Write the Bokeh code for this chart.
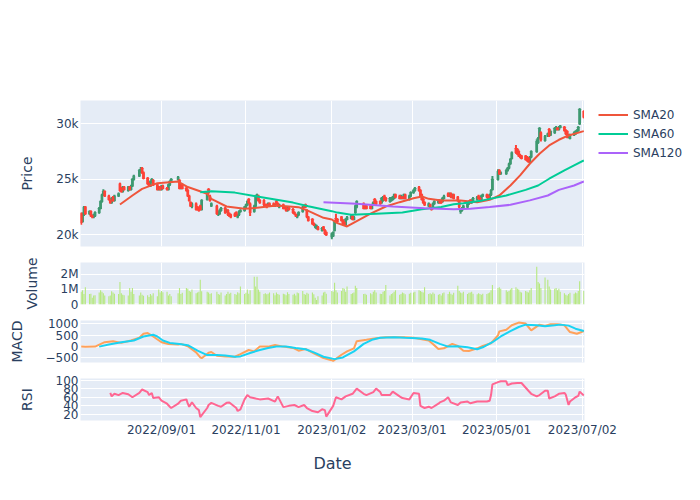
import pandas as pd
from bokeh.plotting import figure
from bokeh.layouts import column, row
from bokeh.models import (Range1d, FixedTicker, DatetimeTickFormatter, Legend,
                          LegendItem, Span, ColumnDataSource)
from bokeh.embed import file_html
from bokeh.resources import INLINE

# ---------------- data ----------------
krx_holidays = ["2022-08-15", "2022-09-09", "2022-09-12", "2022-10-03", "2022-10-10",
                "2022-12-30", "2023-01-23", "2023-01-24", "2023-03-01", "2023-05-01",
                "2023-05-05", "2023-05-29", "2023-06-06"]

open_ = [
    21900, 21200, 21800, 22500,
    21900, 22100, 21700, 21600, 21700,
    22000, 22400, 23000, 23600, 23900,
    23500, 23100, 22900, 23400, 23100,
    23500, 24600, 24200, 23900, 24300,
    24000, 24300, 24100, 24400, 25000,
    25300, 25700, 26000, 25600,
    25100, 24600, 24400, 24800, 24900,
    24500, 24100, 24300, 24100, 24400,
    24200, 24100, 24500, 24800,
    25000, 24900, 24200, 24500,
    24200, 24000, 23500, 22900, 22500,
    22800, 22500, 22400, 22600, 22300,
    23200, 24100, 23500, 22600,
    22600, 21900, 21900, 22200,
    22400, 22100, 22200, 21900, 21800,
    21900, 22000, 21600, 21800, 22100,
    22200, 22500, 22700, 23200, 22800,
    22100, 22600, 23300, 23500, 23100,
    23100, 22700, 22700, 22600, 22800,
    22800, 22600, 23000, 22800, 22500,
    22700, 22500, 22400, 22200, 22400,
    22300, 22000, 21800, 21600, 21800,
    22100, 22600, 22700, 22200, 21600,
    21400, 21000, 20700, 20600, 20700,
    20400, 20700, 20400, 20200,
    19800, 19900, 20400, 21500, 21400,
    21600, 21300, 21100, 20900, 21400,
    21500, 21700, 21400, 22000, 22500,
    22800, 22400, 22600,
    22600, 22400, 22700, 23200, 23000,
    23000, 22900, 23100, 23500, 23300,
    23000, 23100, 23200, 23300, 23600,
    23500, 23300, 23400, 23300, 23600,
    23200, 23500, 23800, 24000,
    24300, 24000, 23600, 23200, 22900,
    22600, 22700, 22400, 22400, 22800,
    22900, 23100, 23000, 23000, 23300,
    23700, 23500, 23700, 23400, 23600,
    23400, 23000, 22100, 22200, 22400,
    22500, 22800, 23100, 22900, 23100,
    23200, 23500, 23300, 23200, 23500,
    23600, 23500, 23300, 23600, 24100,
    25000, 25800, 25500,
    25500, 25800, 26000, 26400, 26900,
    27800, 27700, 27500, 27200, 27100,
    27100, 27000, 26900, 26600, 27000,
    27500, 28300, 28800, 29200,
    28500, 28900, 29500, 29000,
    29200, 29500, 29600, 29500, 29700,
    29700, 29400, 29300, 28800, 28700,
    29000, 29100, 29300, 29400, 30000,
    31100]

close = [
    21100, 21900, 22500, 21900,
    22100, 21700, 21600, 21800, 22000,
    22400, 23000, 23600, 23900, 23500,
    23200, 22900, 23300, 23100, 23500,
    23700, 24000, 23900, 24300, 24100,
    24300, 24100, 24400, 25000, 25300,
    25800, 25900, 25600, 25100,
    24600, 24400, 24800, 25000, 24500,
    24100, 24300, 24100, 24400, 24200,
    24100, 24500, 24800, 25000,
    25200, 24200, 24500, 24200,
    24000, 23500, 23100, 22600, 22800,
    22300, 22300, 22200, 22300, 23100,
    23800, 23800, 23100, 22800,
    21900, 22000, 22200, 22400,
    22000, 22200, 21800, 21700, 21600,
    21700, 21800, 21800, 22100, 22200,
    22500, 22700, 23000, 22900, 22000,
    22600, 23400, 23600, 23100, 22900,
    22700, 22600, 22500, 22800, 22600,
    22600, 22700, 22800, 22600, 22700,
    22400, 22400, 22200, 22400, 22300,
    22000, 21900, 21700, 21800, 22000,
    22500, 22500, 22500, 21600, 21300,
    21000, 20900, 20900, 20800, 20500,
    20600, 20500, 20100, 20000,
    20100, 20200, 21200, 21300, 21200,
    21300, 21000, 20900, 21400, 21600,
    21700, 21400, 21600, 22600, 23000,
    22400, 22600, 22400,
    22400, 22700, 22900, 22900, 22800,
    22800, 23300, 23400, 23200, 23100,
    23300, 23300, 23400, 23600, 23400,
    23300, 23500, 23300, 23600, 23300,
    23500, 23800, 24000, 24200,
    24000, 23500, 23200, 22900, 22700,
    22800, 22500, 22300, 22800, 23000,
    23100, 22900, 22900, 23300, 23500,
    23500, 23700, 23400, 23600, 23300,
    23100, 22500, 22300, 22400, 22600,
    22800, 23000, 22900, 23100, 23300,
    23400, 23300, 23200, 23500, 23600,
    23400, 23300, 23600, 24000, 25000,
    25700, 25500, 25600,
    25800, 26000, 26400, 26800, 27400,
    27400, 27300, 27100, 27000, 26900,
    26800, 26700, 26600, 27000, 27500,
    28400, 28700, 29600, 28600,
    28900, 29100, 29000, 29300,
    29600, 29700, 29500, 29700, 29800,
    29400, 29100, 28800, 29000, 29000,
    29200, 29300, 29400, 29700, 31300,
    30600]

high = [
    22000, 22000, 22600, 22600,
    22200, 22200, 21800, 21900, 22100,
    22500, 23100, 23700, 24100, 24000,
    23600, 23200, 23400, 23500, 23600,
    23800, 24700, 24300, 24400, 24400,
    24400, 24400, 24500, 25100, 25400,
    25900, 26100, 26100, 25700,
    25200, 24700, 24900, 25100, 25000,
    24600, 24400, 24400, 24500, 24500,
    24300, 24600, 24900, 25100,
    25300, 25000, 24600, 24600,
    24300, 24100, 23600, 23000, 22900,
    22900, 22600, 22500, 22700, 23200,
    23900, 24200, 23600, 22900,
    22700, 22100, 22300, 22500,
    22500, 22300, 22300, 22000, 21900,
    22000, 22100, 21900, 22200, 22300,
    22600, 22800, 23100, 23300, 22900,
    22700, 23600, 23700, 23600, 23200,
    23200, 22800, 22800, 22900, 22900,
    22900, 22800, 23200, 22900, 22800,
    22800, 22600, 22500, 22500, 22500,
    22400, 22100, 21900, 21900, 22100,
    22600, 22700, 22800, 22300, 21700,
    21500, 21100, 21000, 20900, 20800,
    20700, 20800, 20500, 20300,
    20200, 20300, 21300, 21900, 21500,
    21700, 21400, 21200, 21500, 21700,
    21800, 21800, 21700, 22700, 23100,
    22900, 22700, 22700,
    22700, 22800, 23000, 23300, 23100,
    23100, 23400, 23500, 23600, 23400,
    23400, 23400, 23500, 23700, 23700,
    23600, 23600, 23500, 23700, 23700,
    23600, 23900, 24100, 24300,
    24400, 24100, 23700, 23300, 23000,
    22900, 22800, 22500, 22900, 23100,
    23200, 23200, 23100, 23400, 23600,
    23800, 23800, 23800, 23700, 23700,
    23500, 23100, 22400, 22500, 22700,
    22900, 23100, 23200, 23200, 23400,
    23500, 23600, 23400, 23600, 23700,
    23700, 23600, 23700, 24100, 25300,
    25900, 25900, 25700,
    25900, 26100, 26500, 26900, 27500,
    28100, 27800, 27600, 27300, 27200,
    27200, 27100, 27000, 27100, 27600,
    28600, 28800, 29700, 29300,
    29000, 29200, 29600, 29400,
    29700, 29800, 29700, 29800, 29900,
    29800, 29500, 29400, 29100, 29100,
    29300, 29400, 29500, 29800, 31400,
    31200]

low = [
    20900, 21100, 21700, 21800,
    21800, 21600, 21500, 21500, 21600,
    21900, 22300, 22900, 23500, 23400,
    23100, 22800, 22800, 23000, 23000,
    23400, 23900, 23800, 23800, 24000,
    23900, 24000, 24000, 24300, 24900,
    25200, 25600, 25500, 25000,
    24500, 24300, 24300, 24700, 24400,
    24000, 24000, 24000, 24000, 24100,
    24000, 24000, 24400, 24700,
    24900, 24100, 24100, 24100,
    23900, 23400, 23000, 22500, 22400,
    22200, 22200, 22100, 22200, 22200,
    23100, 23700, 23000, 22500,
    21800, 21700, 21800, 22100,
    21900, 22000, 21700, 21600, 21500,
    21600, 21700, 21500, 21700, 22000,
    22100, 22400, 22600, 22800, 21700,
    22000, 22500, 23200, 23000, 22800,
    22600, 22500, 22400, 22500, 22500,
    22500, 22500, 22700, 22500, 22400,
    22300, 22300, 22100, 22100, 22200,
    21900, 21800, 21600, 21500, 21700,
    22000, 22400, 22400, 21500, 21200,
    20900, 20800, 20600, 20500, 20400,
    20300, 20400, 20000, 19900,
    19600, 19800, 20300, 21200, 21100,
    21200, 20900, 20800, 20800, 21300,
    21400, 21300, 21300, 21900, 22400,
    22300, 22300, 22300,
    22300, 22300, 22600, 22800, 22700,
    22700, 22800, 23000, 23100, 23000,
    22900, 23000, 23100, 23200, 23300,
    23200, 23200, 23200, 23200, 23200,
    23100, 23400, 23700, 23900,
    23900, 23400, 23100, 22800, 22600,
    22500, 22400, 22200, 22300, 22700,
    22800, 22800, 22800, 22900, 23200,
    23400, 23400, 23300, 23300, 23200,
    23000, 22400, 21900, 22100, 22300,
    22400, 22700, 22800, 22800, 23000,
    23100, 23200, 23100, 23100, 23400,
    23300, 23200, 23200, 23500, 24000,
    24900, 25400, 25400,
    25400, 25700, 25900, 26300, 26800,
    27300, 27200, 27000, 26900, 26800,
    26700, 26600, 26500, 26500, 26900,
    27400, 28200, 28700, 28400,
    28400, 28800, 28800, 28900,
    29100, 29400, 29400, 29400, 29600,
    29300, 29000, 28700, 28700, 28600,
    28900, 29000, 29200, 29300, 29900,
    30500]

volume = [
    850000, 950000, 700000, 1150000,
    700000, 720000, 450000, 600000, 620000,
    800000, 950000, 850000, 750000, 600000,
    550000, 600000, 880000, 800000, 720000,
    700000, 1500000, 750000, 650000, 620000,
    600000, 1100000, 850000, 1100000, 700000,
    600000, 800000, 650000, 580000,
    620000, 500000, 700000, 600000, 750000,
    550000, 1000000, 800000, 900000, 820000,
    850000, 600000, 700000, 550000,
    750000, 1100000, 700000, 780000,
    1100000, 1050000, 900000, 850000, 1000000,
    750000, 800000, 850000, 1650000, 880000,
    850000, 800000, 700000, 750000,
    850000, 700000, 650000, 800000,
    600000, 700000, 850000, 720000, 780000,
    700000, 650000, 820000, 750000, 1200000,
    700000, 780000, 1000000, 720000, 950000,
    1850000, 1200000, 1850000, 1000000, 850000,
    700000, 750000, 680000, 720000, 800000,
    750000, 620000, 800000, 700000, 650000,
    720000, 680000, 620000, 820000, 700000,
    650000, 720000, 600000, 800000, 750000,
    900000, 700000, 650000, 780000, 720000,
    800000, 680000, 450000, 300000, 550000,
    600000, 800000, 850000, 720000,
    900000, 850000, 1450000, 950000, 800000,
    900000, 1100000, 1050000, 850000, 1200000,
    700000, 750000, 800000, 1250000, 1100000,
    700000, 720000, 650000,
    750000, 680000, 850000, 950000, 800000,
    720000, 700000, 850000, 900000, 1300000,
    600000, 700000, 750000, 850000, 950000,
    650000, 700000, 800000, 750000, 680000,
    720000, 780000, 800000, 850000,
    950000, 900000, 850000, 800000, 1150000,
    700000, 750000, 680000, 800000, 720000,
    650000, 700000, 600000, 750000, 800000,
    700000, 850000, 720000, 650000, 780000,
    1250000, 900000, 800000, 750000, 850000,
    700000, 780000, 800000, 850000, 720000,
    680000, 750000, 700000, 650000, 720000,
    700000, 750000, 800000, 950000, 1300000,
    1100000, 1150000, 1050000,
    950000, 850000, 900000, 1000000, 1100000,
    1150000, 1050000, 1000000, 850000, 800000,
    900000, 850000, 800000, 950000, 1100000,
    2500000, 1500000, 1400000, 1100000,
    1800000, 1650000, 1200000, 1000000,
    1050000, 1100000, 950000, 1050000, 850000,
    750000, 650000, 600000, 700000, 780000,
    720000, 800000, 750000, 900000, 1550000,
    900000]

sma20_points = [
    ("2022-08-02", 22730), ("2022-08-11", 23540), ("2022-08-18", 24140),
    ("2022-08-29", 24650), ("2022-09-13", 24800), ("2022-09-20", 24300),
    ("2022-10-04", 23700), ("2022-10-07", 23240), ("2022-10-18", 22550),
    ("2022-10-31", 22340), ("2022-11-09", 22430), ("2022-11-23", 22640),
    ("2022-12-09", 22490), ("2022-12-16", 22150), ("2022-12-27", 21530),
    ("2023-01-02", 21380), ("2023-01-06", 21050), ("2023-01-13", 20750),
    ("2023-01-20", 21230), ("2023-01-30", 21900), ("2023-02-10", 22550),
    ("2023-02-20", 22940), ("2023-03-02", 23300), ("2023-03-08", 23450),
    ("2023-03-13", 23240), ("2023-03-22", 23090), ("2023-04-05", 23090),
    ("2023-04-17", 22940), ("2023-04-26", 23150), ("2023-05-03", 23540),
    ("2023-05-11", 24440), ("2023-05-18", 25350), ("2023-05-25", 26400),
    ("2023-06-01", 27300), ("2023-06-08", 28050), ("2023-06-15", 28560),
    ("2023-06-22", 28950), ("2023-07-03", 29340)]

sma60_points = [
    ("2022-09-29", 23840), ("2022-10-07", 23930), ("2022-10-24", 23800),
    ("2022-11-07", 23500), ("2022-11-21", 23200), ("2022-12-05", 22900),
    ("2022-12-16", 22580), ("2023-01-02", 22130), ("2023-01-06", 22000),
    ("2023-01-16", 21800), ("2023-02-03", 21900), ("2023-02-22", 22000),
    ("2023-03-08", 22300), ("2023-03-22", 22500), ("2023-03-31", 22750),
    ("2023-04-07", 22850), ("2023-04-21", 23100), ("2023-05-08", 23540),
    ("2023-05-22", 24050), ("2023-05-31", 24440), ("2023-06-08", 25050),
    ("2023-06-19", 25800), ("2023-06-26", 26250), ("2023-07-03", 26700)]

sma120_points = [
    ("2022-12-27", 22940), ("2023-01-20", 22800), ("2023-02-15", 22550),
    ("2023-03-10", 22400), ("2023-03-31", 22300), ("2023-04-12", 22340),
    ("2023-04-26", 22500), ("2023-05-11", 22700), ("2023-05-25", 23100),
    ("2023-06-07", 23540), ("2023-06-15", 24050), ("2023-06-26", 24440),
    ("2023-07-03", 24800)]

macd_points = [
    ("2022-07-05", 0), ("2022-07-08", -10), ("2022-07-15", 0), ("2022-07-22", 194),
    ("2022-07-28", 240), ("2022-08-03", 164), ("2022-08-10", 268), ("2022-08-16", 387),
    ("2022-08-19", 566), ("2022-08-22", 596), ("2022-08-26", 447), ("2022-09-01", 194),
    ("2022-09-06", 119), ("2022-09-13", 89), ("2022-09-15", 119), ("2022-09-20", 15),
    ("2022-09-26", -253), ("2022-09-29", -477), ("2022-09-30", -510), ("2022-10-05", -268),
    ("2022-10-07", -238), ("2022-10-11", -402), ("2022-10-17", -432), ("2022-10-24", -447),
    ("2022-10-28", -328), ("2022-11-03", -149), ("2022-11-07", -209), ("2022-11-11", 0),
    ("2022-11-17", 0), ("2022-11-22", 75), ("2022-11-28", 0), ("2022-12-05", -60),
    ("2022-12-09", -179), ("2022-12-14", -104), ("2022-12-20", -298), ("2022-12-26", -477),
    ("2022-12-29", -536), ("2023-01-03", -626), ("2023-01-09", -358), ("2023-01-13", -209),
    ("2023-01-18", -75), ("2023-01-20", 238), ("2023-01-27", 298), ("2023-02-03", 373),
    ("2023-02-10", 417), ("2023-02-16", 417), ("2023-02-23", 417), ("2023-03-02", 387),
    ("2023-03-08", 328), ("2023-03-13", 268), ("2023-03-16", 119), ("2023-03-20", -104),
    ("2023-03-24", -75), ("2023-03-30", 119), ("2023-04-03", 30), ("2023-04-07", -179),
    ("2023-04-11", -194), ("2023-04-17", -75), ("2023-04-21", 30), ("2023-04-27", 149),
    ("2023-05-02", 492), ("2023-05-03", 670), ("2023-05-08", 745), ("2023-05-12", 939),
    ("2023-05-17", 1058), ("2023-05-22", 1013), ("2023-05-24", 864), ("2023-05-26", 715),
    ("2023-06-01", 968), ("2023-06-05", 909), ("2023-06-09", 983), ("2023-06-14", 983),
    ("2023-06-19", 939), ("2023-06-23", 641), ("2023-06-28", 566), ("2023-07-03", 685)]

signal_points = [
    ("2022-07-18", 0), ("2022-07-25", 89), ("2022-08-03", 194), ("2022-08-12", 268),
    ("2022-08-19", 447), ("2022-08-26", 521), ("2022-08-29", 447), ("2022-09-02", 268),
    ("2022-09-07", 164), ("2022-09-14", 119), ("2022-09-20", 60), ("2022-09-27", -179),
    ("2022-10-04", -373), ("2022-10-11", -373), ("2022-10-17", -387), ("2022-10-24", -447),
    ("2022-10-28", -432), ("2022-11-04", -283), ("2022-11-11", -149), ("2022-11-17", -60),
    ("2022-11-23", 0), ("2022-11-30", 0), ("2022-12-07", -60), ("2022-12-14", -119),
    ("2022-12-20", -253), ("2022-12-27", -447), ("2023-01-04", -551), ("2023-01-10", -477),
    ("2023-01-18", -209), ("2023-01-25", 119), ("2023-01-31", 298), ("2023-02-06", 387),
    ("2023-02-16", 417), ("2023-02-24", 387), ("2023-03-08", 358), ("2023-03-14", 298),
    ("2023-03-21", 119), ("2023-03-27", 0), ("2023-04-03", 15), ("2023-04-10", -30),
    ("2023-04-17", -119), ("2023-04-21", -30), ("2023-04-28", 194), ("2023-05-04", 447),
    ("2023-05-11", 685), ("2023-05-17", 864), ("2023-05-22", 968), ("2023-05-30", 939),
    ("2023-06-05", 894), ("2023-06-12", 939), ("2023-06-16", 968), ("2023-06-22", 924),
    ("2023-06-27", 790), ("2023-07-03", 685)]

rsi_points = [
    ("2022-07-26", 70), ("2022-07-27", 62), ("2022-07-29", 68), ("2022-08-01", 65),
    ("2022-08-04", 70), ("2022-08-08", 67), ("2022-08-11", 60), ("2022-08-16", 70),
    ("2022-08-18", 78), ("2022-08-22", 72), ("2022-08-23", 65), ("2022-08-25", 70),
    ("2022-08-26", 58), ("2022-08-30", 60), ("2022-09-01", 52), ("2022-09-05", 45),
    ("2022-09-07", 38), ("2022-09-08", 35), ("2022-09-13", 45), ("2022-09-15", 52),
    ("2022-09-19", 55), ("2022-09-20", 45), ("2022-09-21", 38), ("2022-09-23", 48),
    ("2022-09-26", 35), ("2022-09-28", 30), ("2022-09-29", 14), ("2022-10-04", 35),
    ("2022-10-05", 42), ("2022-10-07", 47), ("2022-10-12", 40), ("2022-10-14", 38),
    ("2022-10-18", 47), ("2022-10-20", 48), ("2022-10-25", 35), ("2022-10-26", 28),
    ("2022-10-28", 32), ("2022-10-31", 55), ("2022-11-02", 65), ("2022-11-04", 60),
    ("2022-11-08", 57), ("2022-11-11", 55), ("2022-11-17", 57), ("2022-11-22", 50),
    ("2022-11-24", 62), ("2022-11-28", 37), ("2022-12-02", 40), ("2022-12-06", 42),
    ("2022-12-09", 37), ("2022-12-13", 42), ("2022-12-15", 35), ("2022-12-19", 28),
    ("2022-12-23", 25), ("2022-12-26", 32), ("2022-12-28", 30), ("2022-12-29", 15),
    ("2023-01-03", 40), ("2023-01-05", 60), ("2023-01-09", 55), ("2023-01-12", 62),
    ("2023-01-17", 68), ("2023-01-20", 80), ("2023-01-25", 68), ("2023-01-27", 65),
    ("2023-02-01", 72), ("2023-02-03", 80), ("2023-02-06", 72), ("2023-02-07", 65),
    ("2023-02-13", 65), ("2023-02-15", 73), ("2023-02-20", 62), ("2023-02-22", 58),
    ("2023-02-27", 55), ("2023-03-02", 70), ("2023-03-06", 68), ("2023-03-07", 40),
    ("2023-03-10", 35), ("2023-03-13", 38), ("2023-03-15", 35), ("2023-03-20", 45),
    ("2023-03-21", 48), ("2023-03-24", 52), ("2023-03-27", 60), ("2023-03-29", 48),
    ("2023-04-03", 42), ("2023-04-05", 48), ("2023-04-10", 50), ("2023-04-12", 46),
    ("2023-04-17", 50), ("2023-04-19", 50), ("2023-04-24", 50), ("2023-04-26", 52),
    ("2023-04-27", 65), ("2023-04-28", 90), ("2023-05-02", 95), ("2023-05-04", 97),
    ("2023-05-08", 97), ("2023-05-09", 88), ("2023-05-12", 92), ("2023-05-16", 93),
    ("2023-05-19", 93), ("2023-05-24", 75), ("2023-05-26", 68), ("2023-05-30", 62),
    ("2023-06-01", 65), ("2023-06-05", 75), ("2023-06-07", 75), ("2023-06-08", 57),
    ("2023-06-12", 62), ("2023-06-15", 68), ("2023-06-19", 70), ("2023-06-20", 66),
    ("2023-06-22", 42), ("2023-06-23", 50), ("2023-06-27", 60), ("2023-06-29", 63),
    ("2023-06-30", 73), ("2023-07-03", 64)]

x_tick_dates = ["2022-09-01", "2022-11-01", "2023-01-02", "2023-03-01", "2023-05-01", "2023-07-02"]
price_ticks = [20000, 25000, 30000]
price_labels = ["20k", "25k", "30k"]
volume_ticks = [0, 1000000, 2000000]
volume_labels = ["0", "1M", "2M"]
macd_ticks = [-500, 0, 500, 1000]
macd_labels = ["\u2212500", "0", "500", "1000"]
rsi_ticks = [20, 40, 60, 80, 100]
rsi_labels = ["20", "40", "60", "80", "100"]
legend_labels = ["SMA20", "SMA60", "SMA120"]
sma_colors = ["#EF553B", "#00CC96", "#AB63FA"]

# ---------------- styling ----------------
FONT = "DejaVu Sans"
TXT = "#2a3f5f"
BG = "#E5ECF6"
DAY_MS = 86400000
INC = "#3D9970"
DEC = "#FF4136"

dates = pd.bdate_range("2022-07-05", "2023-07-03")
dates = dates[~dates.isin(pd.to_datetime(krx_holidays))]

df = pd.DataFrame({"date": dates, "open": open_, "high": high, "low": low,
                   "close": close, "volume": volume})
inc_src = ColumnDataSource(df[df.close > df.open])
dec_src = ColumnDataSource(df[df.close <= df.open])
vol_src = ColumnDataSource(df)


def pts(points):
    return ColumnDataSource(dict(x=pd.to_datetime([d for d, _ in points]),
                                 y=[v for _, v in points]))


sma_sources = [pts(s) for s in (sma20_points, sma60_points, sma120_points)]

xr = Range1d(pd.Timestamp("2022-07-04 12:00"), pd.Timestamp("2023-07-03 12:00"))
tick_ms = [pd.Timestamp(d).value / 1e6 for d in x_tick_dates]
fmt = "%Y/%m/%d"
dt_fmt = DatetimeTickFormatter(microseconds=fmt, milliseconds=fmt, seconds=fmt, minsec=fmt,
                               minutes=fmt, hourmin=fmt, hours=fmt, days=fmt, months=fmt,
                               years=fmt)


def make(width, height, top, bottom, right, yr, yticks, ylabels, title, show_x=False):
    p = figure(width=width, height=height, x_axis_type="datetime", x_range=xr,
               y_range=Range1d(*yr), output_backend="svg", toolbar_location=None,
               min_border_left=80, min_border_right=right, min_border_top=top,
               min_border_bottom=bottom)
    p.background_fill_color = BG
    p.border_fill_color = "white"
    p.outline_line_color = None
    p.xgrid.ticker = FixedTicker(ticks=tick_ms)
    p.ygrid.ticker = FixedTicker(ticks=yticks)
    p.grid.grid_line_color = "white"
    p.grid.grid_line_width = 1
    p.yaxis.ticker = FixedTicker(ticks=yticks)
    p.yaxis.major_label_overrides = dict(zip(yticks, ylabels))
    p.yaxis.axis_label = title
    p.xaxis.ticker = FixedTicker(ticks=tick_ms)
    p.xaxis.formatter = dt_fmt
    for ax in p.axis:
        ax.axis_line_color = None
        ax.major_tick_line_color = None
        ax.minor_tick_line_color = None
        ax.major_tick_out = 0
        ax.major_tick_in = 0
        ax.minor_tick_out = 0
        ax.major_label_text_font = FONT
        ax.major_label_text_font_size = "12px"
        ax.major_label_text_color = TXT
        ax.axis_label_text_font = FONT
        ax.axis_label_text_font_size = "14px"
        ax.axis_label_text_font_style = "normal"
        ax.axis_label_text_color = TXT
    p.yaxis.major_label_standoff = 2
    p.yaxis.axis_label_standoff = 18
    if not show_x:
        p.xaxis.visible = False
    return p


# Price panel (frame 80..584 horizontally)
p1 = make(584, 254, 100, 8, 0, (18946, 32099), price_ticks, price_labels, "Price")
for src, col in ((inc_src, INC), (dec_src, DEC)):
    p1.segment(x0="date", y0="low", x1="date", y1="high", source=src,
               line_color=col, line_width=2)
    p1.vbar(x="date", width=0.5 * DAY_MS, top="close", bottom="open", source=src,
            fill_color=col, fill_alpha=0.6, line_color=col, line_width=2)
for src, col in zip(sma_sources, sma_colors):
    p1.line("x", "y", source=src, line_color=col, line_width=2)

# Legend panel to the right of the price frame
leg = figure(width=116, height=254, x_range=Range1d(0, 1), y_range=Range1d(0, 1),
             output_backend="svg", toolbar_location=None, min_border=0,
             x_axis_location=None, y_axis_location=None)
leg.grid.visible = False
leg.outline_line_color = None
leg.background_fill_color = "white"
leg.border_fill_color = "white"
items = []
for lab, src, col in zip(legend_labels, sma_sources, sma_colors):
    r = leg.line("x", "y", source=src, line_color=col, line_width=2)
    items.append(LegendItem(label=lab, renderers=[r]))
legend = Legend(items=items, location=(14, 84), orientation="vertical")
legend.border_line_color = None
legend.background_fill_alpha = 0
legend.padding = 0
legend.margin = 0
legend.spacing = 0
legend.glyph_width = 30
legend.glyph_height = 19
legend.label_height = 19
legend.label_standoff = 5
legend.label_text_font = FONT
legend.label_text_font_size = "12px"
legend.label_text_color = TXT
leg.add_layout(legend)

# Volume panel
p2 = make(700, 58, 8, 8, 116, (0, 2790000), volume_ticks, volume_labels, "Volume")
p2.add_layout(Span(location=0, dimension="width", line_color="white", line_width=2,
                   level="underlay"))
p2.vbar(x="date", width=0.8 * DAY_MS, top="volume", bottom=0, source=vol_src,
        fill_color="#B6E880", line_color=None)

# MACD panel
p3 = make(700, 58, 8, 8, 116, (-700, 1150), macd_ticks, macd_labels, "MACD")
p3.add_layout(Span(location=0, dimension="width", line_color="white", line_width=2,
                   level="underlay"))
p3.line("x", "y", source=pts(macd_points), line_color="#FFA15A", line_width=2)
p3.line("x", "y", source=pts(signal_points), line_color="#19D3F3", line_width=2)

# RSI panel
p4 = make(700, 130, 8, 80, 116, (6, 103.5), rsi_ticks, rsi_labels, "RSI", show_x=True)
p4.line("x", "y", source=pts(rsi_points), line_color="#FF6692", line_width=2)
p4.xaxis.axis_label = "Date"
p4.xaxis.axis_label_text_font_size = "16px"
p4.xaxis.major_label_standoff = 2
p4.xaxis.axis_label_standoff = 14

layout = column(row(p1, leg, spacing=0), p2, p3, p4, spacing=0)
open("out.html", "w").write(file_html(layout, INLINE))
